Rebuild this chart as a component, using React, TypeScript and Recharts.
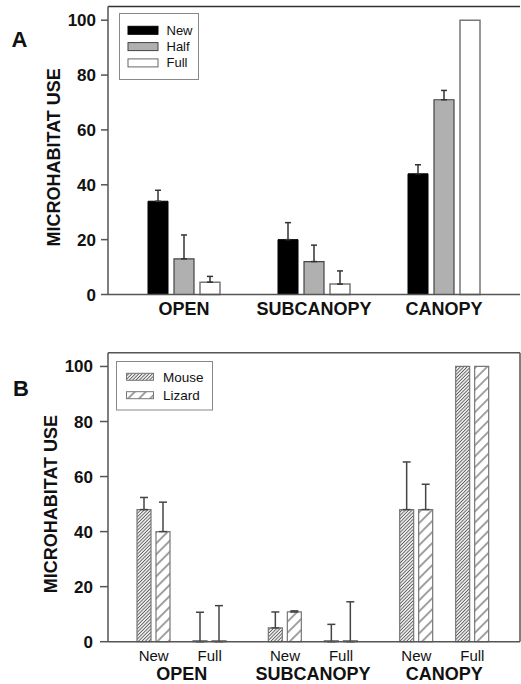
import { Bar, BarChart, CartesianGrid, ErrorBar, Label, XAxis, YAxis } from "recharts";

const categories = ["OPEN", "SUBCANOPY", "CANOPY"];
const yTicks = [0, 20, 40, 60, 80, 100];
const yTitle = "MICROHABITAT USE";

// A: use by decomposition stage (mean, +SE)
const newUse = [34, 20, 44];
const newErr = [4, 6.2, 3.3];
const halfUse = [13, 12, 71];
const halfErr = [8.7, 6, 3.4];
const fullUse = [4.5, 3.8, 100];
const fullErr = [2.1, 4.8, 0];

// B: mouse vs lizard, new and full
const stages = ["New", "Full"];
const mouseNew = [48, 5, 48];
const mouseNewErr = [4.4, 5.8, 17.3];
const lizardNew = [40, 10.8, 48];
const lizardNewErr = [10.7, 0.4, 9.2];
const mouseFull = [0, 0, 100];
const mouseFullErr = [10.7, 6.3, 0];
const lizardFull = [0, 0, 100];
const lizardFullErr = [13.1, 14.5, 0];

const AXIS = "#555";
const FONT = "'Liberation Sans', Arial, sans-serif";

// one-sided (upper) error; nothing drawn when there is no error
const upper = (e: number) => (e > 0 ? [0, e] : null);

const dataA = categories.map((cat, i) => ({
  cat,
  New: newUse[i],
  NewErr: upper(newErr[i]),
  Half: halfUse[i],
  HalfErr: upper(halfErr[i]),
  Full: fullUse[i],
  FullErr: upper(fullErr[i]),
}));

const dataB = categories.map((cat, i) => ({
  cat,
  MouseNew: mouseNew[i],
  MouseNewErr: upper(mouseNewErr[i]),
  LizardNew: lizardNew[i],
  LizardNewErr: upper(lizardNewErr[i]),
  gap: 0,
  MouseFull: mouseFull[i],
  MouseFullErr: upper(mouseFullErr[i]),
  LizardFull: lizardFull[i],
  LizardFullErr: upper(lizardFullErr[i]),
}));

// bar geometry for panel B (bars per group + spacer)
const bSize = 14;
const bGap = 5;
const spacer = 13;
const groupW = 4 * bSize + spacer + 4 * bGap;
const pairShift = groupW / 2 - (2 * bSize + bGap) / 2;

const axisTitle = (x: number) => (props: any) => {
  const vb = props.viewBox;
  const cy = vb.y + vb.height * (1 - 50 / 105);
  return (
    <text
      x={x}
      y={cy}
      transform={`rotate(-90 ${x} ${cy})`}
      textAnchor="middle"
      fontSize={18}
      fontWeight={700}
      fill="#111"
      fontFamily={FONT}
    >
      {yTitle}
    </text>
  );
};

const catTickA = (props: any) => (
  <text
    x={props.x}
    y={props.y + 20}
    textAnchor="middle"
    fontSize={18}
    fontWeight={700}
    fill="#111"
    fontFamily={FONT}
  >
    {props.payload.value}
  </text>
);

const catTickB = (props: any) => (
  <g fontFamily={FONT} fill="#111" textAnchor="middle">
    <text x={props.x - pairShift} y={props.y + 19} fontSize={15}>
      {stages[0]}
    </text>
    <text x={props.x + pairShift} y={props.y + 19} fontSize={15}>
      {stages[1]}
    </text>
    <text x={props.x} y={props.y + 38} fontSize={18} fontWeight={700}>
      {props.payload.value}
    </text>
  </g>
);

const topLine = ({ offset }: any) => [offset.top];
const rightLine = ({ offset }: any) => [offset.left + offset.width];

function Hatches({ suffix }: { suffix: string }) {
  return (
    <defs>
      <pattern
        id={`mouse${suffix}`}
        patternUnits="userSpaceOnUse"
        width={2.4}
        height={2.4}
        patternTransform="rotate(45)"
      >
        <rect width={2.4} height={2.4} fill="#fff" />
        <line x1={1.2} y1={0} x2={1.2} y2={2.4} stroke="#5a5a5a" strokeWidth={1} />
      </pattern>
      <pattern
        id={`lizard${suffix}`}
        patternUnits="userSpaceOnUse"
        width={7.8}
        height={7.8}
        patternTransform="rotate(45)"
      >
        <rect width={7.8} height={7.8} fill="#fff" />
        <line x1={3.9} y1={0} x2={3.9} y2={7.8} stroke="#444" strokeWidth={1} />
      </pattern>
    </defs>
  );
}

function LegendA() {
  const items = [
    { name: "New", fill: "#000", stroke: "#000" },
    { name: "Half", fill: "#b0b0b0", stroke: "#444" },
    { name: "Full", fill: "#fff", stroke: "#666" },
  ];
  return (
    <svg
      width={80}
      height={67}
      style={{ position: "absolute", left: 119, top: 13 }}
      fontFamily={FONT}
    >
      <rect x={0.5} y={0.5} width={79} height={66} fill="#fff" stroke="#888" />
      {items.map((it, i) => (
        <g key={it.name}>
          <rect x={9} y={13.3 + i * 16.3} width={30} height={8} fill={it.fill} stroke={it.stroke} />
          <text x={47.5} y={21.7 + i * 16.3} fontSize={13} fill="#111">
            {it.name}
          </text>
        </g>
      ))}
    </svg>
  );
}

function LegendB() {
  const items = [
    { name: "Mouse", fill: "url(#mouseKey)" },
    { name: "Lizard", fill: "url(#lizardKey)" },
  ];
  return (
    <svg
      width={97}
      height={50}
      style={{ position: "absolute", left: 115.5, top: 361 }}
      fontFamily={FONT}
    >
      <Hatches suffix="Key" />
      <rect x={0.5} y={0.5} width={96} height={48.5} fill="#fff" stroke="#888" />
      {items.map((it, i) => (
        <g key={it.name}>
          <rect x={10.5} y={12.3 + i * 18.4} width={27} height={7} fill={it.fill} stroke="#777" />
          <text x={47} y={20.7 + i * 18.4} fontSize={13.5} fill="#111">
            {it.name}
          </text>
        </g>
      ))}
    </svg>
  );
}

export default function App() {
  return (
    <div
      style={{
        position: "absolute",
        left: 0,
        top: 0,
        width: 521,
        height: 684,
        background: "#fff",
        fontFamily: FONT,
      }}
    >
      <div style={{ position: "absolute", left: 0, top: 0 }}>
        <BarChart
          width={521}
          height={330}
          data={dataA}
          margin={{ top: 6.5, right: 1, bottom: 0, left: 0 }}
          barGap={6}
        >
          <CartesianGrid
            vertical={false}
            horizontalCoordinatesGenerator={topLine}
            stroke="#333"
            strokeWidth={1.5}
          />
          <XAxis
            dataKey="cat"
            interval={0}
            padding={{ left: 11, right: 11 }}
            height={35.5}
            axisLine={{ stroke: AXIS, strokeWidth: 1.5 }}
            tickLine={false}
            tickSize={0}
            tickMargin={0}
            tick={catTickA}
          />
          <YAxis
            width={108}
            domain={[0, 105]}
            ticks={yTicks}
            interval={0}
            axisLine={{ stroke: AXIS, strokeWidth: 1.5 }}
            tickLine={{ stroke: AXIS, strokeWidth: 1.5 }}
            tickSize={7}
            tickMargin={5}
            tick={{ fontSize: 17, fontWeight: 700, fill: "#111", fontFamily: FONT }}
          >
            <Label content={axisTitle(60)} />
          </YAxis>
          <Bar dataKey="New" barSize={20} fill="#000" stroke="#000" strokeWidth={1} isAnimationActive={false}>
            <ErrorBar dataKey="NewErr" direction="y" width={3} stroke="#333" strokeWidth={1.5} />
          </Bar>
          <Bar dataKey="Half" barSize={20} fill="#b0b0b0" stroke="#444" strokeWidth={1.2} isAnimationActive={false}>
            <ErrorBar dataKey="HalfErr" direction="y" width={3} stroke="#333" strokeWidth={1.5} />
          </Bar>
          <Bar dataKey="Full" barSize={20} fill="#fff" stroke="#777" strokeWidth={1.5} isAnimationActive={false}>
            <ErrorBar dataKey="FullErr" direction="y" width={3} stroke="#333" strokeWidth={1.5} />
          </Bar>
        </BarChart>
      </div>

      <div style={{ position: "absolute", left: 0, top: 330 }}>
        <BarChart
          width={521}
          height={354}
          data={dataB}
          margin={{ top: 22.7, right: 1, bottom: 0, left: 0 }}
          barGap={bGap}
        >
          <Hatches suffix="Bar" />
          <CartesianGrid
            horizontalCoordinatesGenerator={topLine}
            verticalCoordinatesGenerator={rightLine}
            stroke={AXIS}
            strokeWidth={1.5}
          />
          <XAxis
            dataKey="cat"
            interval={0}
            padding={{ left: 8, right: 10 }}
            height={42.3}
            axisLine={{ stroke: AXIS, strokeWidth: 1.5 }}
            tickLine={false}
            tickSize={0}
            tickMargin={0}
            tick={catTickB}
          />
          <YAxis
            width={108}
            domain={[0, 105]}
            ticks={yTicks}
            interval={0}
            axisLine={{ stroke: AXIS, strokeWidth: 1.5 }}
            tickLine={{ stroke: AXIS, strokeWidth: 1.5 }}
            tickSize={8}
            tickMargin={7}
            tick={{ fontSize: 17, fontWeight: 700, fill: "#111", fontFamily: FONT }}
          >
            <Label content={axisTitle(57)} />
          </YAxis>
          <Bar dataKey="MouseNew" barSize={bSize} fill="url(#mouseBar)" stroke="#777" strokeWidth={1.2} isAnimationActive={false}>
            <ErrorBar dataKey="MouseNewErr" direction="y" width={4} stroke="#444" strokeWidth={1.5} />
          </Bar>
          <Bar dataKey="LizardNew" barSize={bSize} fill="url(#lizardBar)" stroke="#777" strokeWidth={1.2} isAnimationActive={false}>
            <ErrorBar dataKey="LizardNewErr" direction="y" width={4} stroke="#444" strokeWidth={1.5} />
          </Bar>
          <Bar dataKey="gap" barSize={spacer} fill="none" isAnimationActive={false} />
          <Bar dataKey="MouseFull" barSize={bSize} minPointSize={1} fill="url(#mouseBar)" stroke="#777" strokeWidth={1.2} isAnimationActive={false}>
            <ErrorBar dataKey="MouseFullErr" direction="y" width={4} stroke="#444" strokeWidth={1.5} />
          </Bar>
          <Bar dataKey="LizardFull" barSize={bSize} minPointSize={1} fill="url(#lizardBar)" stroke="#777" strokeWidth={1.2} isAnimationActive={false}>
            <ErrorBar dataKey="LizardFullErr" direction="y" width={4} stroke="#444" strokeWidth={1.5} />
          </Bar>
        </BarChart>
      </div>

      <LegendA />
      <LegendB />

      <svg
        width={521}
        height={684}
        style={{ position: "absolute", left: 0, top: 0, pointerEvents: "none" }}
        fontFamily={FONT}
      >
        <text x={11.5} y={47} fontSize={22} fontWeight={700} fill="#111">
          A
        </text>
        <text x={13} y={396} fontSize={22} fontWeight={700} fill="#111">
          B
        </text>
      </svg>
    </div>
  );
}
